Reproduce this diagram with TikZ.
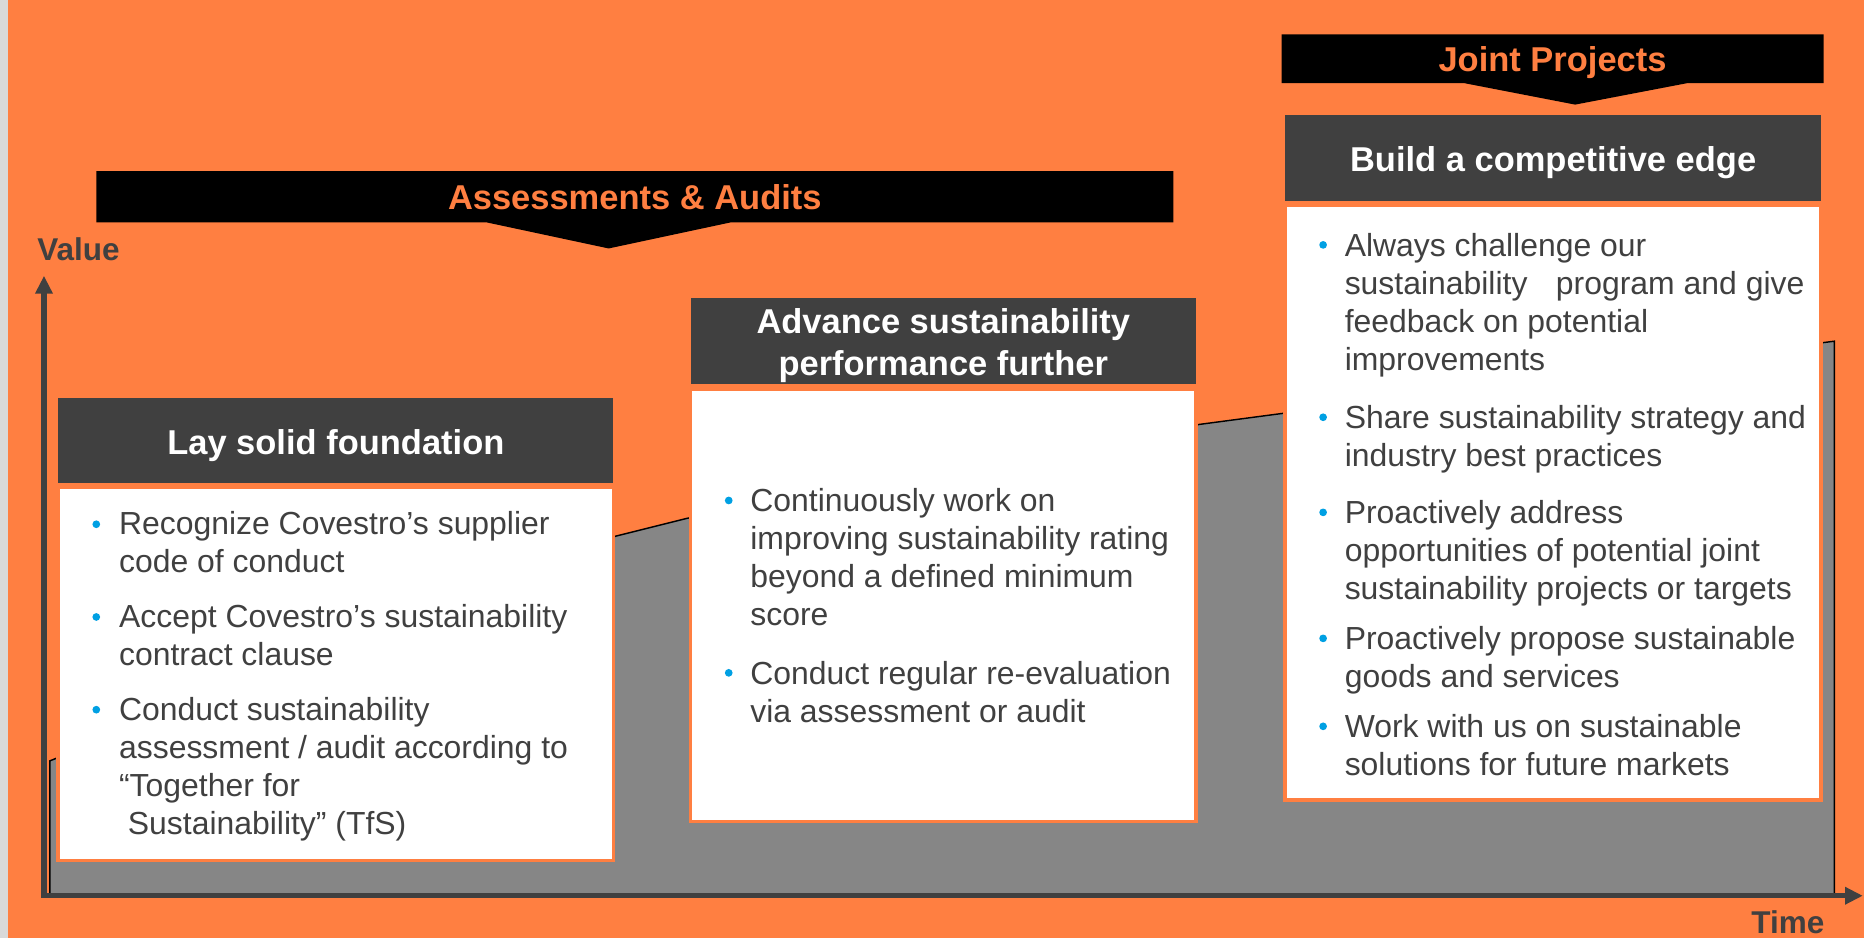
\documentclass[tikz,border=0pt]{standalone}
\usepackage{fontspec}
\setmainfont{Liberation Sans}
\usetikzlibrary{arrows.meta}
\definecolor{bgorange}{RGB}{255,127,65}
\definecolor{darkg}{RGB}{64,64,64}
\definecolor{areag}{RGB}{134,134,134}
\definecolor{bulblue}{RGB}{0,160,227}
\definecolor{stripg}{RGB}{217,217,217}
\begin{document}
\begin{tikzpicture}[x=1pt,y=-1pt,
  bannertext/.style={text=bgorange,font=\fontsize{29}{34}\selectfont\bfseries,inner sep=0pt,anchor=base},
  header/.style={fill=darkg,inner sep=0pt},
  headtext/.style={text=white,font=\fontsize{29}{35}\selectfont\bfseries,inner sep=0pt,anchor=base},
  bodybox/.style={fill=white,draw=bgorange,line width=3pt,inner sep=0pt},
  item/.style={text=darkg,font=\fontsize{26.85}{32}\selectfont,inner sep=0pt,anchor=base west},
  dot/.style={circle,fill=bulblue,inner sep=0pt,minimum size=6.5pt},
  axis/.style={draw=darkg,line width=4.5pt,line join=miter},
  axislabel/.style={text=darkg,font=\fontsize{26.5}{30}\selectfont\bfseries,inner sep=0pt}
]
\useasboundingbox (0,0) rectangle (1568,789);
% background
\fill[bgorange] (0,0) rectangle (1568,789);
\fill[stripg] (0,0) rectangle (7,789);

% grey value area
\filldraw[fill=areag,draw=black,line width=1.2pt]
  (42,753) -- (42,640) -- (518,451) -- (578,436) -- (1009,357) -- (1077,348)
  -- (1543,287) -- (1543,753) -- cycle;

% axes
\coordinate (o) at (37,753.5);
\coordinate (ytop) at (37,232);
\coordinate (xend) at (1567,753.5);
\draw[axis,{Triangle[length=15pt,width=14pt]}-{Triangle[length=15pt,width=14pt]}] (ytop) -- (o) -- (xend);
\node[axislabel] (value) at (66,210) {Value};
\node[axislabel] (time) at (1504,776) {Time};

% banners
\fill[black] (81,144) -- (987,144) -- (987,187) -- (615,187) -- (512,209) -- (409,187) -- (81,187) -- cycle;
\node[bannertext] (aa) at (534,176.5) {Assessments \& Audits};
\fill[black] (1078,29) -- (1534,29) -- (1534,70) -- (1419,70) -- (1325,88) -- (1232,70) -- (1078,70) -- cycle;
\node[bannertext] (jp) at (1306,60) {Joint Projects};

% box 1
\node[header,minimum width=467pt,minimum height=71pt] (h1) at (282.5,370.5) {};
\node[headtext] (h1t) at (282.5,382.5) {Lay solid foundation};
\node[bodybox,minimum width=467pt,minimum height=314pt] (w1) at (282.5,567) {};
\node[dot] (d11) at (81,441) {};
\node[item] (t11) at (100,450) {\begin{tabular}[t]{@{}l@{}}Recognize Covestro’s supplier\\code of conduct\end{tabular}};
\node[dot] (d12) at (81,519) {};
\node[item] (t12) at (100,528) {\begin{tabular}[t]{@{}l@{}}Accept Covestro’s sustainability\\contract clause\end{tabular}};
\node[dot] (d13) at (81,597) {};
\node[item] (t13) at (100,606) {\begin{tabular}[t]{@{}l@{}}Conduct sustainability\\assessment / audit according to\\“Together for\\\hspace*{7.4pt}Sustainability” (TfS)\end{tabular}};

% box 2
\node[header,minimum width=425pt,minimum height=72pt] (h2) at (793.5,287) {};
\node[headtext] (h2t) at (793.5,280.5) {\begin{tabular}[t]{@{}c@{}}Advance sustainability\\performance further\end{tabular}};
\node[bodybox,minimum width=425pt,minimum height=364pt] (w2) at (793.5,509) {};
\node[dot] (d21) at (613,421) {};
\node[item] (t21) at (631,430.5) {\begin{tabular}[t]{@{}l@{}}Continuously work on\\improving sustainability rating\\beyond a defined minimum\\score\end{tabular}};
\node[dot] (d22) at (613,566) {};
\node[item] (t22) at (631,575.5) {\begin{tabular}[t]{@{}l@{}}Conduct regular re-evaluation\\via assessment or audit\end{tabular}};

% box 3
\node[header,minimum width=451pt,minimum height=72pt] (h3) at (1306.5,133) {};
\node[headtext] (h3t) at (1306.5,144.5) {Build a competitive edge};
\node[bodybox,minimum width=451pt,minimum height=500pt] (w3) at (1306.5,423) {};
\node[dot] (d31) at (1113,206) {};
\node[item] (t31) at (1131,215.5) {\begin{tabular}[t]{@{}l@{}}Always challenge our\\sustainability\hspace{24pt}program and give\\feedback on potential\\improvements\end{tabular}};
\node[dot] (d32) at (1113,351) {};
\node[item] (t32) at (1131,360.5) {\begin{tabular}[t]{@{}l@{}}Share sustainability strategy and\\industry best practices\end{tabular}};
\node[dot] (d33) at (1113,431) {};
\node[item] (t33) at (1131,440) {\begin{tabular}[t]{@{}l@{}}Proactively address\\opportunities of potential joint\\sustainability projects or targets\end{tabular}};
\node[dot] (d34) at (1113,537) {};
\node[item] (t34) at (1131,546.5) {\begin{tabular}[t]{@{}l@{}}Proactively propose sustainable\\goods and services\end{tabular}};
\node[dot] (d35) at (1113,611) {};
\node[item] (t35) at (1131,620.5) {\begin{tabular}[t]{@{}l@{}}Work with us on sustainable\\solutions for future markets\end{tabular}};
\end{tikzpicture}
\end{document}
